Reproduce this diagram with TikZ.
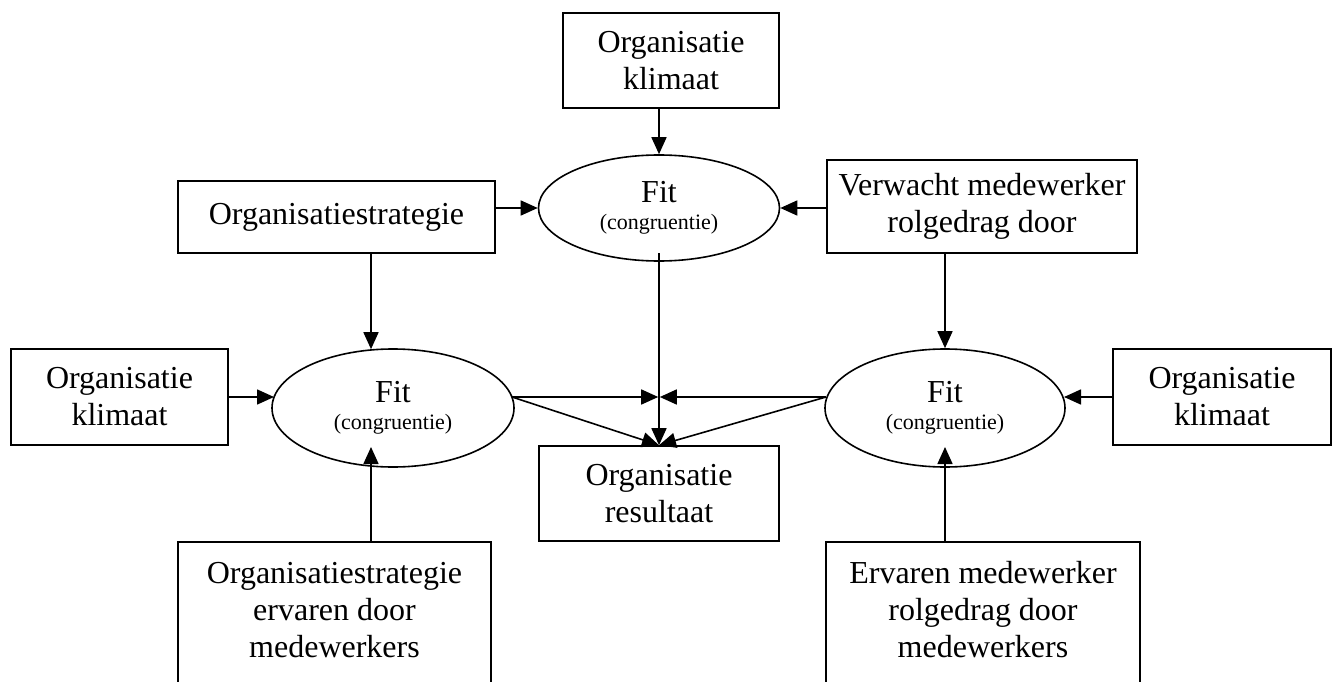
\documentclass[tikz,border=0pt]{standalone}
\usepackage{fontspec}
\setmainfont{Liberation Serif}
\usetikzlibrary{shapes.geometric,arrows.meta,calc}
\begin{document}
\begin{tikzpicture}[x=1pt,y=-1pt,
  box/.style={draw, line width=1.6pt, rectangle, inner sep=0pt, align=center, font=\fontsize{32}{37}\selectfont},
  lbl/.style={inner sep=0pt, align=center, font=\fontsize{32}{37}\selectfont},
  fitnode/.style={draw, line width=1.6pt, ellipse, inner sep=0pt, align=center, font=\fontsize{32}{32}\selectfont},
  small/.style={font=\fontsize{22}{24}\selectfont},
  arr/.style={line width=1.6pt, -{Triangle[length=17pt,width=15pt]}}]
\useasboundingbox (0,0) rectangle (1339,682);
\clip (0,0) rectangle (1339,682);
% boxes
\node[box, minimum width=216pt, minimum height=95pt] (topK) at (671,60.5) {Organisatie\\klimaat};
\node[box, minimum width=317pt, minimum height=72pt] (strat) at (336.5,217) {Organisatiestrategie};
\node[box, minimum width=310pt, minimum height=93pt] (verw) at (982,206.5) {Verwacht medewerker\\rolgedrag door};
\node[box, minimum width=217pt, minimum height=96pt] (LK) at (119.5,397) {Organisatie\\klimaat};
\node[box, minimum width=218pt, minimum height=96pt] (RK) at (1222,397) {Organisatie\\klimaat};
\node[box, minimum width=240pt, minimum height=95pt] (res) at (659,493.5) {Organisatie\\resultaat};
\node[box, minimum width=313pt, minimum height=200pt, anchor=north] (BL) at (334.5,541) {};
\node[lbl] (BLt) at (334.5,610) {Organisatiestrategie\\ervaren door\\medewerkers};
\node[box, minimum width=314pt, minimum height=200pt, anchor=north] (BR) at (983,541) {};
\node[lbl] (BRt) at (983,610) {Ervaren medewerker\\rolgedrag door\\medewerkers};
% ellipses
\node[fitnode, minimum width=241pt, minimum height=106pt] (fitT) at (659,208) {Fit\\[-5pt]{\fontsize{22}{24}\selectfont (congruentie)}};
\node[fitnode, minimum width=242pt, minimum height=118pt] (fitL) at (393,408) {Fit\\[-5pt]{\fontsize{22}{24}\selectfont (congruentie)}};
\node[fitnode, minimum width=240pt, minimum height=118pt] (fitR) at (945,408) {Fit\\[-5pt]{\fontsize{22}{24}\selectfont (congruentie)}};
% helper coordinates
\coordinate (tL) at ($(fitL.north)+(-22,1)$);
\coordinate (bL) at ($(fitL.center)+(-22,39)$);
\coordinate (bR) at ($(fitR.center)+(0,39)$);
\coordinate (jL) at ($(fitL.center)+(119,-11)$);
\coordinate (jR) at ($(fitR.center)+(-119,-11)$);
\coordinate (vT) at ($(fitT.center)+(0,45)$);
% connectors
\draw[arr] (topK.south -| fitT.north) -- (fitT.north);
\draw[arr] (strat.east |- fitT.west) -- (fitT.west);
\draw[arr] (verw.west |- fitT.east) -- (fitT.east);
\draw[arr] (strat.south -| tL) -- (tL);
\draw[arr] (verw.south -| fitR.north) -- (fitR.north);
\draw[arr] (LK.east) -- ($(fitL.center)+(-119,-11)$);
\draw[arr] (RK.west) -- ($(fitR.center)+(119,-11)$);
\draw[arr] (BL.north -| bL) -- (bL);
\draw[arr] (BR.north -| bR) -- (bR);
\draw[arr] (vT) -- (res.north);
\draw[arr, shorten >=0.8pt] (jL) -- (jL -| res.north);
\draw[arr, shorten >=0.8pt] (jR) -- (jR -| res.north);
\draw[arr] (jL) -- (res.north);
\draw[arr] (jR) -- (res.north);
\end{tikzpicture}
\end{document}
